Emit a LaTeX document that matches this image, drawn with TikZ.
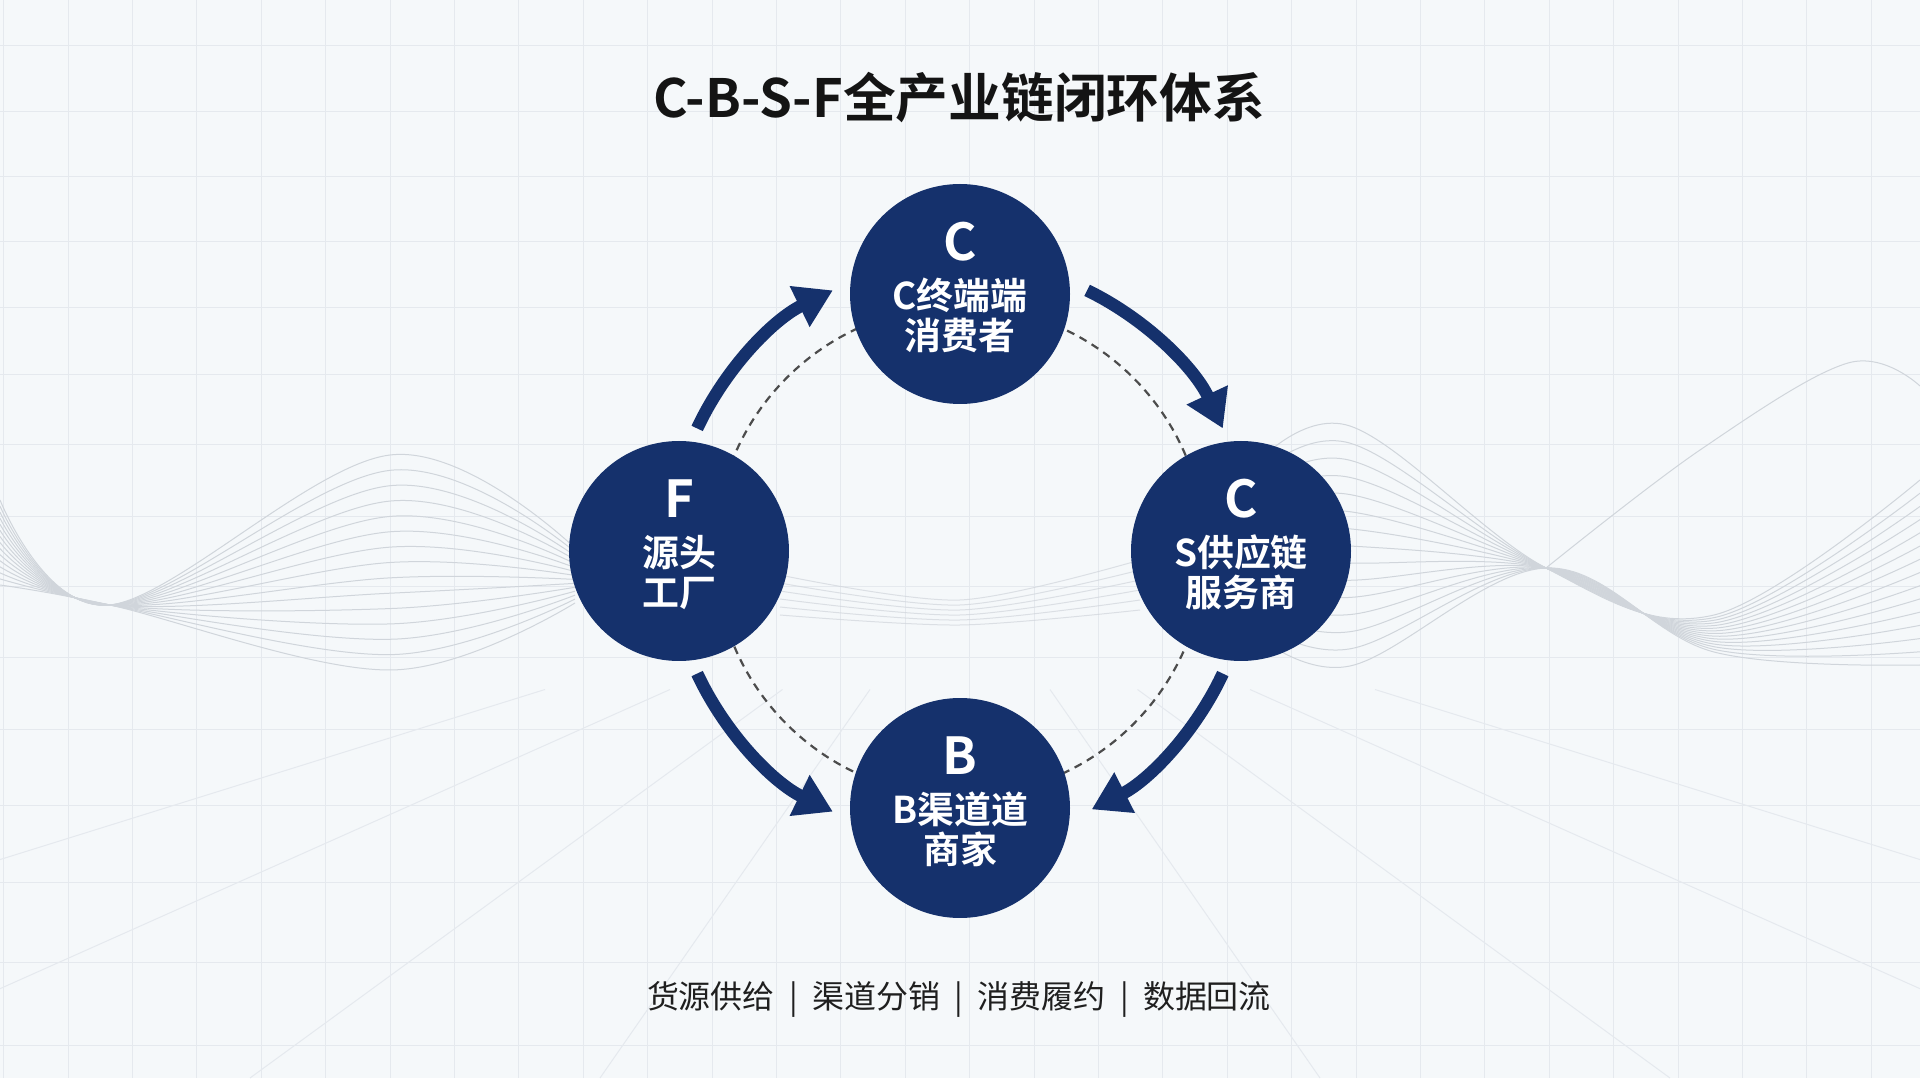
\documentclass[tikz,border=0pt]{standalone}
\usepackage{fontspec}
\setmainfont{Noto Sans CJK SC}[BoldFont={Noto Sans CJK SC Bold}]
\usepackage{tikz}
\usetikzlibrary{arrows.meta, calc}

\definecolor{navy}{RGB}{21,49,108}
\definecolor{bggray}{RGB}{245,248,250}
\definecolor{gridgray}{RGB}{229,233,238}
\definecolor{wavegray}{RGB}{208,213,219}

\tikzset{
  stage/.style={circle, fill=navy, minimum size=22mm, inner sep=0pt, text=white,
    text depth=4.5pt, font=\bfseries\fontsize{10.5}{11.4}\selectfont, align=center},
  flow/.style={navy, line width=1.25mm, -{Triangle[length=3.7mm, width=4.3mm]}},
  ring/.style={black!70, line width=0.22mm, dash pattern=on 0.8mm off 0.6mm},
  gridline/.style={gridgray, line width=0.1mm},
  waveline/.style={wavegray, line width=0.1mm},
}

\begin{document}
\begin{tikzpicture}[x=0.1mm, y=0.1mm]
  \useasboundingbox (0,0) rectangle (1920,1078);
  \fill[bggray] (0,0) rectangle (1920,1078);

  % background: grid, waves, floor lines (y counted downward inside the scope)
  \begin{scope}[shift={(0,1078)}, yscale=-1]
    \clip (0,0) rectangle (1920,1078);
    \foreach \gx in {0,...,29}
      \draw[gridline] ({3.6+64.4*\gx},0) -- ({3.6+64.4*\gx},1078);
    \foreach \gy in {46,112,177,242,308,375,445,517,587,658,730,805,882,962,1045}
      \draw[gridline] (0,\gy) -- (1920,\gy);
    \foreach \vx in {-700,-200,250,600,1320,1670,2120,2620}
      \draw[gridline] ($(960,560)!0.25!(\vx,1078)$) -- (\vx,1078);
    \foreach \i in {0,...,14}{
      \pgfmathsetmacro{\t}{\i/14}
      \draw[waveline] plot[smooth, tension=0.6] coordinates
        {(0,{500+85*\t}) (110,605) (390,{455+215*\t}) (575,{548+55*\t})};
      \draw[waveline] plot[smooth, tension=0.6] coordinates
        {(1250,{470+160*\t}) (1350,{426+240*\t}) (1546,568) (1714,{615+37*\t}) (1920,{480+185*\t})};
    }
    \foreach \i in {0,...,5}
      \draw[waveline, opacity=0.7] plot[smooth] coordinates
        {(780,{575+8*\i}) (960,{600+5*\i}) (1140,{560+10*\i})};
    \draw[waveline] plot[smooth, tension=0.6] coordinates
      {(1546,568) (1700,450) (1848,363) (1920,386)};
  \end{scope}

  \coordinate (O) at (960,527);
  \draw[ring] (O) circle[radius=245];

  \node[stage] (C) at (960,784) {{\fontsize{14.5}{14}\selectfont C}\\[2.5pt]C终端端\\消费者};
  \node[stage] (S) at (1241,527) {{\fontsize{14.5}{14}\selectfont C}\\[2.5pt]S供应链\\服务商};
  \node[stage] (F) at (679,527) {{\fontsize{14.5}{14}\selectfont F}\\[2.5pt]源头\\工厂};
  \node[stage] (B) at (960,270) {{\fontsize{14.5}{14}\selectfont B}\\[2.5pt]B渠道道\\商家};

  % outer arrows on the ring round O
  \coordinate (f2c) at ($(O)+(155:290)$);
  \coordinate (c2s) at ($(O)+(64:290)$);
  \coordinate (s2b) at ($(O)+(-25:290)$);
  \coordinate (f2b) at ($(O)+(205:290)$);
  \draw[flow] (f2c) arc[start angle=155, end angle=116, radius=290];
  \draw[flow] (c2s) arc[start angle=64, end angle=25, radius=290];
  \draw[flow] (s2b) arc[start angle=-25, end angle=-63, radius=290];
  \draw[flow] (f2b) arc[start angle=205, end angle=244, radius=290];

  \node[font=\bfseries\fontsize{15}{18}\selectfont, text=black!92] (title) at (959,980)
    {C-B-S-F全产业链闭环体系};
  \node[font=\fontsize{9.1}{11}\selectfont, text=black!88] (steps) at (959,79)
    {货源供给\hspace{0.45em}|\hspace{0.45em}渠道分销\hspace{0.45em}|\hspace{0.45em}消费履约\hspace{0.45em}|\hspace{0.45em}数据回流};
\end{tikzpicture}
\end{document}
